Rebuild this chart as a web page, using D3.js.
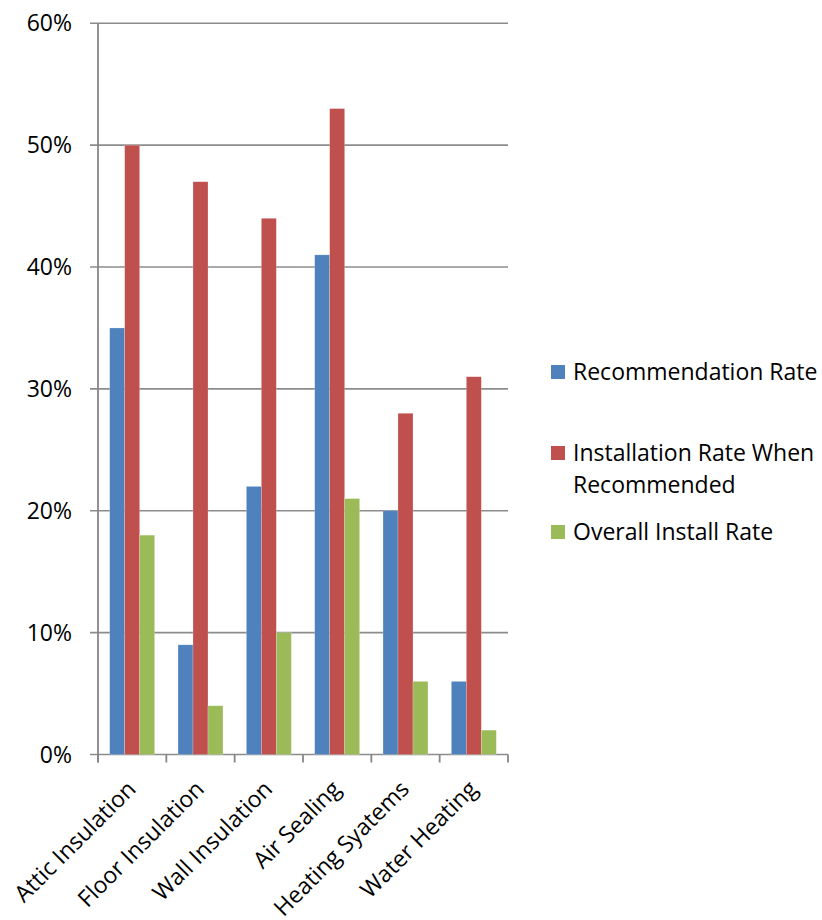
<!DOCTYPE html>
<html><head><meta charset="utf-8">
<script src="https://cdn.jsdelivr.net/npm/d3@7/dist/d3.min.js"></script>
<style>body{margin:0;background:#fff}svg{display:block}text{font-family:"Open Sans",sans-serif;fill:#000}</style>
</head><body>
<script>
const categories = ["Attic Insulation","Floor Insulation","Wall Insulation","Air Sealing","Heating Syatems","Water Heating"];
const seriesNames = ["Recommendation Rate","Installation Rate When Recommended","Overall Install Rate"];
const recommendationRate = [0.35,0.09,0.22,0.41,0.20,0.06];
const installWhenRecommended = [0.50,0.47,0.44,0.53,0.28,0.31];
const overallInstallRate = [0.18,0.04,0.10,0.21,0.06,0.02];
const yTicks = [0,0.1,0.2,0.3,0.4,0.5,0.6];
const colors = ["#4F81BD","#C0504D","#9BBB59"];
const seriesValues = [recommendationRate, installWhenRecommended, overallInstallRate];

(function(){
const W=822,H=920;
const pLeft=98,pRight=508,pTop=23.3,pBottom=754.5;
const fs="23px";
const svg=d3.select("body").append("svg").attr("width",W).attr("height",H);
const y=d3.scaleLinear().domain([0,0.6]).range([pBottom,pTop]);
const x=d3.scaleBand().domain(categories).range([pLeft,pRight]).padding(0);
const gp=11.7;
const x1=d3.scaleBand().domain(seriesNames).range([gp,x.bandwidth()-gp]).padding(0);

svg.append("g").selectAll("line").data(yTicks).join("line")
 .attr("x1",pLeft-8).attr("x2",pRight).attr("y1",d=>y(d)).attr("y2",d=>y(d))
 .attr("stroke","#8c8c8c").attr("stroke-width",1.6);
svg.append("line").attr("x1",pLeft).attr("x2",pLeft).attr("y1",pTop).attr("y2",pBottom+8)
 .attr("stroke","#868686").attr("stroke-width",1.8);
const bounds=categories.map(c=>x(c)).concat([pRight]);
svg.append("g").selectAll("line").data(bounds).join("line")
 .attr("x1",d=>d).attr("x2",d=>d).attr("y1",pBottom).attr("y2",pBottom+8)
 .attr("stroke","#868686").attr("stroke-width",1.8);

svg.append("g").selectAll("text").data(yTicks).join("text")
 .attr("x",pLeft-26).attr("y",d=>y(d)).attr("dy","0.35em").attr("text-anchor","end")
 .style("font-size",fs).text(d3.format(".0%"));

const data=[];
categories.forEach((c,i)=>seriesNames.forEach((s,j)=>data.push({c,s,j,v:seriesValues[j][i]})));
svg.append("g").selectAll("rect").data(data).join("rect")
 .attr("x",d=>x(d.c)+x1(d.s)).attr("width",x1.bandwidth())
 .attr("y",d=>y(d.v)).attr("height",d=>y(0)-y(d.v))
 .attr("fill",d=>colors[d.j]).attr("stroke","rgba(255,255,255,0.35)").attr("stroke-width",0.6);

svg.append("g").selectAll("text").data(categories).join("text")
 .attr("text-anchor","end")
 .attr("transform",d=>`translate(${x(d)+x.bandwidth()/2+5},${pBottom+36}) rotate(-45)`)
 .style("font-size",fs).text(d=>d);

const legY=[372,453,532];
const leg=svg.append("g");
seriesNames.forEach((s,i)=>{
  leg.append("rect").attr("x",551).attr("y",legY[i]-7).attr("width",14).attr("height",14).attr("fill",colors[i]);
});
const legLines=[["Recommendation Rate"],["Installation Rate When","Recommended"],["Overall Install Rate"]];
legLines.forEach((ls,i)=>{
  const t=leg.append("text").attr("x",573).attr("y",legY[i]).style("font-size",fs);
  ls.forEach((l,k)=>t.append("tspan").attr("x",573).attr("dy",k===0?"0.35em":"32px").text(l));
});
})();
</script>
</body></html>
